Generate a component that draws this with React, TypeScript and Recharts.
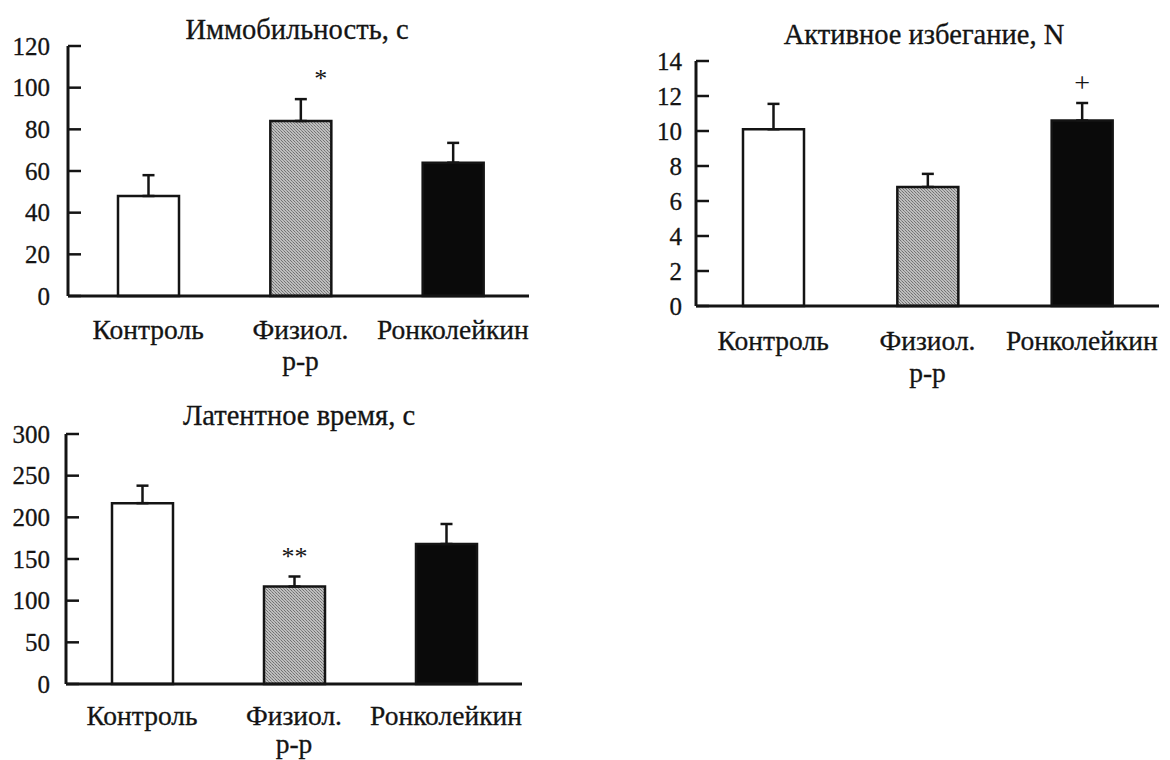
import React from 'react';
import { BarChart, Bar, XAxis, YAxis, ErrorBar, Cell, LabelList } from 'recharts';

const FONT = 'Liberation Serif, Times New Roman, serif';
const INK = '#141414';

// groups along the x axis
const categories = ['Контроль', 'Физиол.\nр-р', 'Ронколейкин'];
const groupFills = ['#ffffff', 'url(#hatch)', '#0a0a0a'];

// Иммобильность, с
const immobilityMean = [48, 84, 64];
const immobilityErr = [10, 10.5, 9.5];
const immobilityMarks = ['', '*', ''];
const immobilityTicks = [0, 20, 40, 60, 80, 100, 120];

// Активное избегание, N
const avoidanceMean = [10.1, 6.8, 10.6];
const avoidanceErr = [1.45, 0.75, 1.0];
const avoidanceMarks = ['', '', '+'];
const avoidanceTicks = [0, 2, 4, 6, 8, 10, 12, 14];

// Латентное время, с
const latencyMean = [217, 117, 168];
const latencyErr = [21, 12, 24];
const latencyMarks = ['', '**', ''];
const latencyTicks = [0, 50, 100, 150, 200, 250, 300];

const buildRows = (mean: number[], err: number[], marks: string[]) =>
  categories.map((name, i) => ({
    name,
    value: mean[i],
    err: [0, err[i]],
    mark: marks[i],
  }));

interface PanelProps {
  left: number;
  top: number;
  width: number;
  height: number;
  axisX: number; // y axis width inside the box
  marginTop: number;
  marginRight: number;
  marginBottom: number;
  padLeft: number;
  title: string;
  titleX: number;
  titleY: number;
  ticks: number[];
  tickGap: number;
  labelOffsets: [number, number];
  markDx: number;
  rows: ReturnType<typeof buildRows>;
}

// the scan prints slightly heavy, a hairline stroke thickens the glyphs a bit
const textStyle = { fontFamily: FONT };
const heavy = { stroke: INK, strokeWidth: 0.3 };

function Panel(p: PanelProps) {
  const max = p.ticks[p.ticks.length - 1];

  const yTick = (props: any) => {
    const { x, y, payload } = props;
    const ax = x + p.tickGap;
    return (
      <g>
        <line x1={ax} x2={ax + 13} y1={y} y2={y} stroke={INK} strokeWidth={2.5} />
        <text x={x} y={y} dy="0.34em" textAnchor="end" style={textStyle} fontSize={25} fill={INK} {...heavy}>
          {payload.value}
        </text>
      </g>
    );
  };

  const xTick = (props: any) => {
    const { x, y, payload } = props;
    const lines = String(payload.value).split('\n');
    return (
      <text textAnchor="middle" style={textStyle} fontSize={27.5} fill={INK} {...heavy}>
        {lines.map((l, i) => (
          <tspan key={i} x={x} y={y + p.labelOffsets[i]} dy="0.34em">
            {l}
          </tspan>
        ))}
      </text>
    );
  };

  const markLabel = (props: any) => {
    const { x, y, width, height, index } = props;
    const row = p.rows[index];
    if (!row || !row.mark) return null;
    const perUnit = height / row.value;
    const errTop = y - row.err[1] * perUnit;
    const isPlus = row.mark === '+';
    return (
      <text
        x={x + width / 2 + p.markDx}
        y={errTop - (isPlus ? 11 : 12)}
        textAnchor="middle"
        style={textStyle}
        fontSize={isPlus ? 28 : 26}
        fill={INK}
      >
        {row.mark}
      </text>
    );
  };

  return (
    <div style={{ position: 'absolute', left: p.left, top: p.top, width: p.width, height: p.height }}>
      <div
        style={{
          position: 'absolute',
          left: p.titleX - 250,
          width: 500,
          top: p.titleY - 16,
          textAlign: 'center',
          fontFamily: FONT,
          fontSize: 28.5,
          lineHeight: '32px',
          color: INK,
          WebkitTextStroke: '0.3px #141414',
        }}
      >
        {p.title}
      </div>
      <BarChart
        width={p.width}
        height={p.height}
        data={p.rows}
        margin={{ top: p.marginTop, right: p.marginRight, bottom: 4, left: 0 }}
        style={{ position: 'absolute', left: 0, top: 0, fontFamily: FONT }}
      >
        <XAxis
          dataKey="name"
          height={p.marginBottom - 4}
          axisLine={{ stroke: INK, strokeWidth: 3 }}
          tickLine={false}
          tickSize={0}
          tickMargin={0}
          tick={xTick}
          interval={0}
          padding={{ left: p.padLeft, right: 0 }}
        />
        <YAxis
          width={p.axisX}
          domain={[0, max]}
          ticks={p.ticks}
          interval={0}
          axisLine={{ stroke: INK, strokeWidth: 3 }}
          tickLine={false}
          tickSize={0}
          tickMargin={p.tickGap}
          tick={yTick}
        />
        <Bar dataKey="value" barSize={61} stroke={INK} strokeWidth={2.5} isAnimationActive={false}>
          {p.rows.map((r, i) => (
            <Cell key={r.name} fill={groupFills[i]} />
          ))}
          <ErrorBar dataKey="err" direction="y" width={6} stroke={INK} strokeWidth={2.5} isAnimationActive={false} />
          <LabelList dataKey="mark" content={markLabel} />
        </Bar>
      </BarChart>
    </div>
  );
}

export default function App() {
  return (
    <div
      style={{
        position: 'absolute',
        left: 0,
        top: 0,
        width: 1170,
        height: 760,
        background: '#fff',
        overflow: 'hidden',
        fontFamily: FONT,
      }}
    >
      <svg width={0} height={0} style={{ position: 'absolute' }}>
        <defs>
          <pattern id="hatch" width={3} height={3} patternUnits="userSpaceOnUse">
            <rect width={3} height={3} fill="#bebebe" />
            <rect x={0} y={0} width={1} height={1} fill="#727272" />
            <rect x={1} y={1} width={1} height={1} fill="#888888" />
            <rect x={2} y={2} width={1} height={1} fill="#727272" />
          </pattern>
        </defs>
      </svg>
      <Panel
        left={0}
        top={0}
        width={560}
        height={380}
        axisX={68}
        marginTop={46}
        marginRight={31}
        marginBottom={84}
        padLeft={4}
        title="Иммобильность, с"
        titleX={297}
        titleY={30}
        ticks={immobilityTicks}
        tickGap={18}
        labelOffsets={[34, 65]}
        markDx={20}
        rows={buildRows(immobilityMean, immobilityErr, immobilityMarks)}
      />
      <Panel
        left={600}
        top={0}
        width={570}
        height={390}
        axisX={96}
        marginTop={61}
        marginRight={11}
        marginBottom={84}
        padLeft={0}
        title="Активное избегание, N"
        titleX={324}
        titleY={35}
        ticks={avoidanceTicks}
        tickGap={14}
        labelOffsets={[35, 67]}
        markDx={0}
        rows={buildRows(avoidanceMean, avoidanceErr, avoidanceMarks)}
      />
      <Panel
        left={0}
        top={380}
        width={560}
        height={380}
        axisX={66}
        marginTop={54}
        marginRight={38}
        marginBottom={76}
        padLeft={0}
        title="Латентное время, с"
        titleX={299}
        titleY={36}
        ticks={latencyTicks}
        tickGap={16}
        labelOffsets={[32, 60]}
        markDx={0}
        rows={buildRows(latencyMean, latencyErr, latencyMarks)}
      />
    </div>
  );
}
